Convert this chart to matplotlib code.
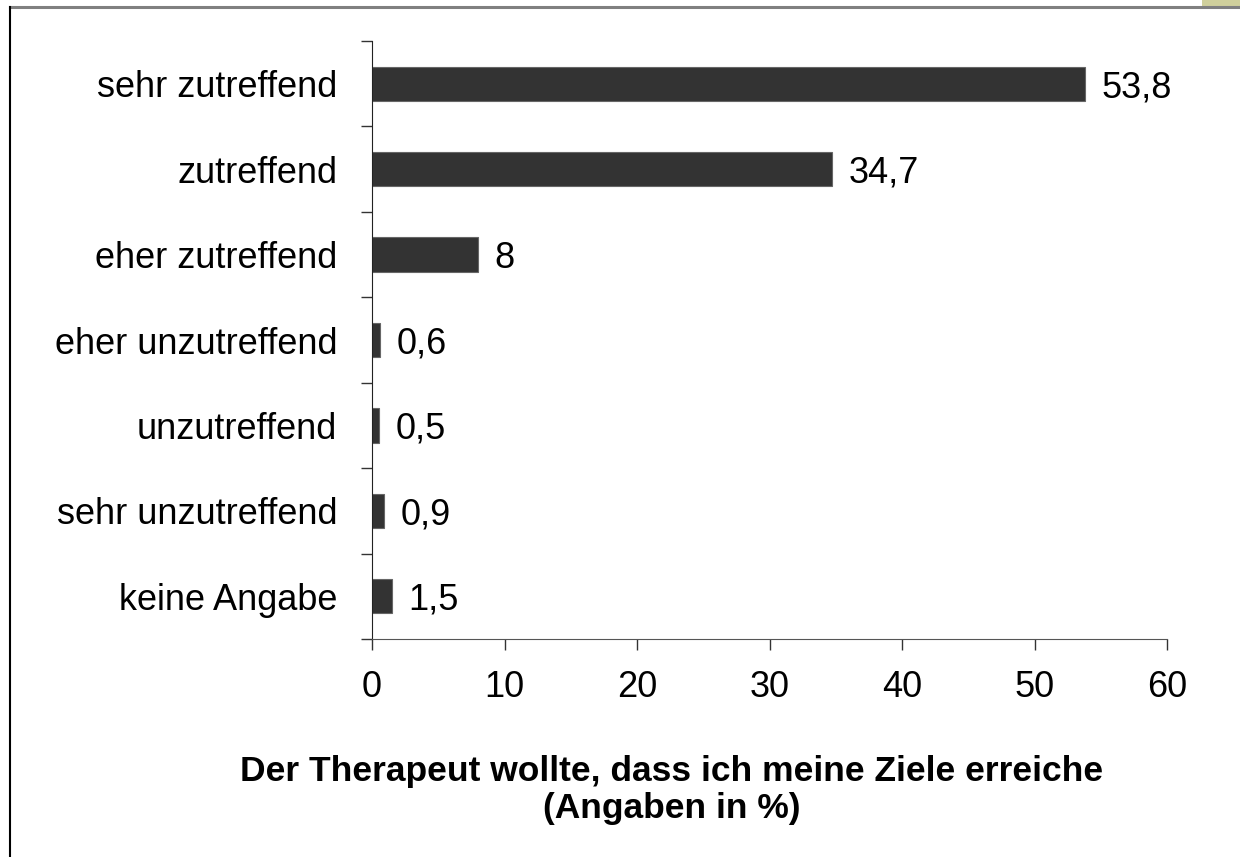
import matplotlib.pyplot as plt
from matplotlib.patches import Rectangle
from matplotlib.lines import Line2D

# Antwortkategorien (von oben nach unten) und Anteile in %
kategorien = ['sehr zutreffend', 'zutreffend', 'eher zutreffend', 'eher unzutreffend',
              'unzutreffend', 'sehr unzutreffend', 'keine Angabe']
werte = [53.8, 34.7, 8, 0.6, 0.5, 0.9, 1.5]
wert_labels = ['53,8', '34,7', '8', '0,6', '0,5', '0,9', '1,5']
x_ticks = [0, 10, 20, 30, 40, 50, 60]

plt.rcParams['font.family'] = ['Liberation Sans', 'DejaVu Sans']

fig = plt.figure(figsize=(12.4, 8.57), dpi=100)

# Rahmen wie im Original (oben grau, links schwarz, Ecke oben rechts)
fig.add_artist(Line2D([10 / 1240, 1], [1 - 6.5 / 857] * 2, color='#808080', lw=2.2))
fig.add_artist(Line2D([10 / 1240] * 2, [0, 1 - 6.5 / 857], color='black', lw=1.5))
fig.add_artist(Rectangle((1202 / 1240, 1 - 6 / 857), 38 / 1240, 6 / 857,
                         color='#d0d09c', lw=0))

ax = fig.add_axes([372 / 1240, 1 - 639 / 857, 795 / 1240, 598 / 857])

pos = list(range(len(kategorien)))
ax.barh(pos, werte, height=0.4, color='#333333', edgecolor='#666666', linewidth=0.8)

for p, w, lab in zip(pos, werte, wert_labels):
    ax.text(w + 1.25, p, lab, va='center_baseline', ha='left', fontsize=26)

ax.set_ylim(len(kategorien) - 0.5, -0.5)
ax.set_xlim(0, 60)
ax.set_xticks(x_ticks)
ax.set_yticks(pos)
ax.set_yticklabels(kategorien)
ax.set_yticks([p - 0.5 for p in pos] + [len(pos) - 0.5], minor=True)
ax.tick_params(axis='y', which='major', length=0, pad=25, labelsize=26)
ax.tick_params(axis='y', which='minor', length=8, width=1, color='#333333')
ax.tick_params(axis='x', length=8, width=1, color='#333333', labelsize=26, pad=14)

for s in ['top', 'right']:
    ax.spines[s].set_visible(False)
ax.spines['left'].set_color('#222222')
ax.spines['bottom'].set_color('#555555')

fig.text(672 / 1240, 1 - 790 / 857,
         'Der Therapeut wollte, dass ich meine Ziele erreiche\n(Angaben in %)',
         ha='center', va='center', fontsize=25.5, fontweight='bold', linespacing=1.14)

fig.savefig('out.png', dpi=100)
